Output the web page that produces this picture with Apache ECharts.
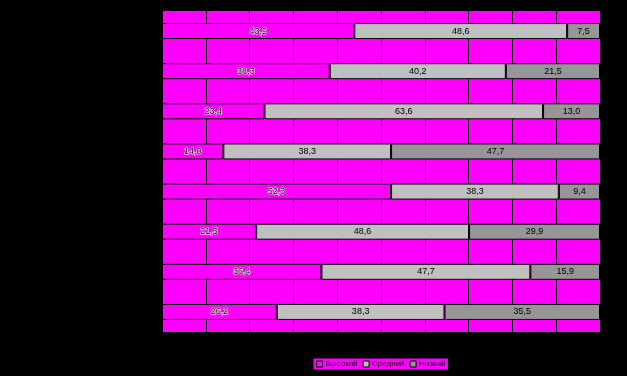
<!DOCTYPE html>
<html>
<head>
<meta charset="utf-8">
<script src="https://cdn.jsdelivr.net/npm/echarts@6/dist/echarts.min.js"></script>
<style>html,body{margin:0;padding:0;background:#000;}#c{width:627px;height:376px;}</style>
</head>
<body>
<div id="c"></div>
<script>
var categories = ['1', '2', '3', '4', '5', '6', '7', '8'];
var seriesNames = ['Высокий', 'Средний', 'Низкий'];
var high = [43.9, 38.3, 23.4, 14.0, 52.3, 21.5, 36.4, 26.2];
var mid = [48.6, 40.2, 63.6, 38.3, 38.3, 48.6, 47.7, 38.3];
var low = [7.5, 21.5, 13.0, 47.7, 9.4, 29.9, 15.9, 35.5];
var colors = ['#FF00FF', '#C0C0C0', '#969696'];

function fmt(p) { return p.value.toFixed(1).replace('.', ','); }
function mk(name, data, color, outlined) {
  return {
    name: name, type: 'bar', stack: 'all', data: data, barWidth: 16,
    itemStyle: { color: color, borderColor: '#000', borderWidth: 1 },
    label: {
      show: true, position: 'inside', formatter: fmt,
      fontSize: 9, fontFamily: 'Liberation Sans',
      color: '#000',
      textBorderColor: outlined ? '#fff' : 'transparent',
      textBorderWidth: outlined ? 1 : 0
    },
    emphasis: { disabled: true }
  };
}
var chart = echarts.init(document.getElementById('c'));
chart.setOption({
  backgroundColor: '#000',
  animation: false,
  grid: { left: 162, right: 27, top: 11, bottom: 44, show: true, backgroundColor: '#FF00FF', borderWidth: 0 },
  legend: {
    left: 313, top: 358, padding: [2, 3], itemGap: 5, itemWidth: 6, itemHeight: 6,
    backgroundColor: '#FF00FF', borderColor: '#000', borderWidth: 1,
    icon: 'rect',
    itemStyle: { borderColor: '#000', borderWidth: 1 },
    textStyle: { fontSize: 8, color: '#000000', fontFamily: 'Liberation Sans', padding: [0, 0, 0, -2] },
    data: seriesNames
  },
  xAxis: {
    type: 'value', min: 0, max: 100, interval: 10,
    axisLabel: { show: false }, axisLine: { show: false }, axisTick: { show: false },
    splitLine: { show: true, lineStyle: { color: '#000', width: 1 } }
  },
  yAxis: {
    type: 'category', data: categories, inverse: true,
    axisLabel: { show: false }, axisTick: { show: false },
    axisLine: { show: true, lineStyle: { color: '#000' } }
  },
  series: [
    mk(seriesNames[0], high, colors[0], true),
    mk(seriesNames[1], mid, colors[1], false),
    mk(seriesNames[2], low, colors[2], false)
  ]
});
</script>
</body>
</html>
